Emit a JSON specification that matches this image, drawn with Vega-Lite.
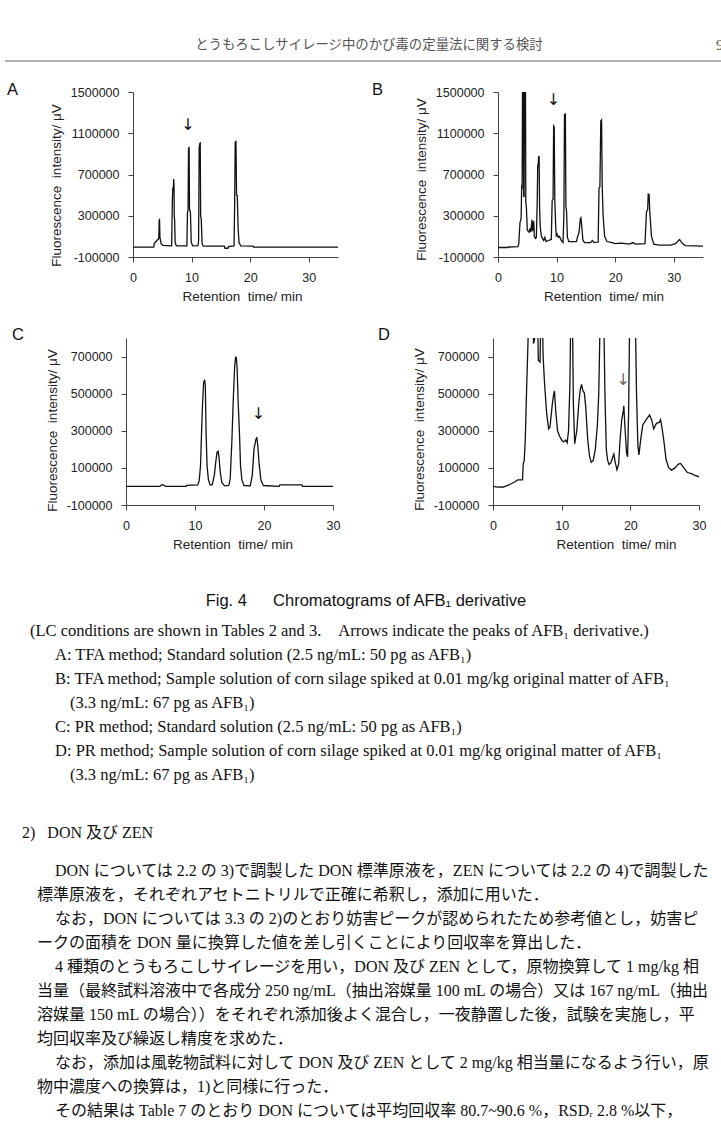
{
"$schema": "https://vega.github.io/schema/vega-lite/v6.json",
"padding": 0,
"background": "white",
"bounds": "flush",
"spacing": 0,
"config": {
  "view": {"stroke": null},
  "axis": {"grid": false, "domainColor": "#444", "tickColor": "#444", "labelColor": "#222", "titleColor": "#222", "labelFont": "Liberation Sans", "titleFont": "Liberation Sans", "labelFontSize": 12.5, "titleFontSize": 13.5, "titleFontWeight": "normal", "tickSize": 5, "labelFlush": false, "labelOverlap": false, "domainWidth": 1, "tickWidth": 1, "labelPadding": 9, "labelExpr": "replace(datum.label, '\u2212', '-')"},
  "title": {"font": "Liberation Sans", "fontSize": 16.5, "fontWeight": "normal", "anchor": "start", "color": "#111", "baseline": "alphabetic", "offset": 0, "frame": "group"}
},
"datasets": {
  "A": [{"t":0,"v":-5000},{"t":3.55,"v":-5000},{"t":3.62,"v":30000},{"t":4.0,"v":55000},{"t":4.4,"v":80000},{"t":4.47,"v":255000},{"t":4.53,"v":260000},{"t":4.6,"v":90000},{"t":4.8,"v":30000},{"t":5.1,"v":12000},{"t":6.6,"v":8000},{"t":6.72,"v":450000},{"t":6.8,"v":570000},{"t":6.9,"v":575000},{"t":6.95,"v":655000},{"t":7.0,"v":600000},{"t":7.05,"v":290000},{"t":7.1,"v":270000},{"t":7.2,"v":40000},{"t":7.4,"v":8000},{"t":9.2,"v":8000},{"t":9.3,"v":330000},{"t":9.4,"v":360000},{"t":9.48,"v":955000},{"t":9.58,"v":960000},{"t":9.65,"v":360000},{"t":9.8,"v":340000},{"t":9.95,"v":40000},{"t":10.2,"v":8000},{"t":11.1,"v":10000},{"t":11.2,"v":60000},{"t":11.3,"v":960000},{"t":11.4,"v":1000000},{"t":11.48,"v":1005000},{"t":11.55,"v":290000},{"t":11.65,"v":270000},{"t":11.8,"v":30000},{"t":12.0,"v":5000},{"t":15.6,"v":5000},{"t":15.7,"v":-15000},{"t":16.2,"v":-15000},{"t":16.3,"v":2000},{"t":17.25,"v":8000},{"t":17.35,"v":390000},{"t":17.45,"v":1015000},{"t":17.58,"v":1020000},{"t":17.68,"v":500000},{"t":17.8,"v":495000},{"t":17.95,"v":180000},{"t":18.1,"v":40000},{"t":18.4,"v":8000},{"t":20.5,"v":5000},{"t":20.6,"v":-5000},{"t":35,"v":-5000}],
  "B": [{"t":0,"v":-8000},{"t":1.7,"v":-8000},{"t":1.8,"v":-3000},{"t":3.4,"v":0},{"t":3.55,"v":30000},{"t":3.75,"v":230000},{"t":3.95,"v":280000},{"t":4.05,"v":600000},{"t":4.12,"v":560000},{"t":4.2,"v":1800000},{"t":4.3,"v":1800000},{"t":4.38,"v":500000},{"t":4.45,"v":480000},{"t":4.55,"v":1800000},{"t":4.68,"v":1800000},{"t":4.75,"v":430000},{"t":4.85,"v":380000},{"t":5.0,"v":160000},{"t":5.3,"v":140000},{"t":5.5,"v":180000},{"t":5.6,"v":140000},{"t":5.8,"v":260000},{"t":5.9,"v":150000},{"t":6.1,"v":250000},{"t":6.2,"v":100000},{"t":6.4,"v":80000},{"t":6.55,"v":90000},{"t":6.7,"v":450000},{"t":6.78,"v":790000},{"t":6.85,"v":780000},{"t":6.95,"v":880000},{"t":7.02,"v":870000},{"t":7.1,"v":380000},{"t":7.2,"v":200000},{"t":7.4,"v":100000},{"t":7.6,"v":80000},{"t":7.8,"v":60000},{"t":8.0,"v":90000},{"t":8.2,"v":50000},{"t":8.6,"v":60000},{"t":9.1,"v":70000},{"t":9.25,"v":450000},{"t":9.4,"v":460000},{"t":9.5,"v":1170000},{"t":9.6,"v":1160000},{"t":9.7,"v":450000},{"t":9.85,"v":200000},{"t":9.95,"v":100000},{"t":10.1,"v":120000},{"t":10.3,"v":90000},{"t":10.5,"v":100000},{"t":10.8,"v":60000},{"t":11.1,"v":40000},{"t":11.25,"v":300000},{"t":11.35,"v":1280000},{"t":11.5,"v":1285000},{"t":11.6,"v":380000},{"t":11.7,"v":350000},{"t":11.85,"v":90000},{"t":12.1,"v":50000},{"t":13.4,"v":50000},{"t":13.6,"v":100000},{"t":13.8,"v":130000},{"t":13.95,"v":200000},{"t":14.05,"v":270000},{"t":14.15,"v":280000},{"t":14.3,"v":200000},{"t":14.5,"v":60000},{"t":14.8,"v":40000},{"t":15.8,"v":40000},{"t":16.1,"v":60000},{"t":16.4,"v":40000},{"t":17.1,"v":45000},{"t":17.25,"v":570000},{"t":17.4,"v":580000},{"t":17.55,"v":1220000},{"t":17.68,"v":1230000},{"t":17.8,"v":560000},{"t":17.95,"v":300000},{"t":18.2,"v":100000},{"t":18.6,"v":50000},{"t":19.5,"v":40000},{"t":20,"v":30000},{"t":21,"v":35000},{"t":22.5,"v":25000},{"t":23,"v":40000},{"t":23.5,"v":25000},{"t":25.1,"v":30000},{"t":25.35,"v":340000},{"t":25.55,"v":360000},{"t":25.65,"v":510000},{"t":25.8,"v":505000},{"t":25.9,"v":350000},{"t":26.2,"v":100000},{"t":26.6,"v":25000},{"t":27.5,"v":15000},{"t":29.5,"v":15000},{"t":30.3,"v":30000},{"t":31.0,"v":70000},{"t":31.5,"v":30000},{"t":32,"v":10000},{"t":35,"v":5000}],
  "C": [{"t":0,"v":0},{"t":4.9,"v":0},{"t":5.1,"v":8000},{"t":5.3,"v":10000},{"t":5.6,"v":3000},{"t":5.8,"v":0},{"t":8.7,"v":0},{"t":8.8,"v":6000},{"t":10.4,"v":8000},{"t":10.6,"v":30000},{"t":10.8,"v":110000},{"t":10.95,"v":290000},{"t":11.1,"v":450000},{"t":11.25,"v":560000},{"t":11.4,"v":575000},{"t":11.5,"v":540000},{"t":11.6,"v":300000},{"t":11.75,"v":110000},{"t":11.95,"v":35000},{"t":12.2,"v":8000},{"t":12.5,"v":10000},{"t":12.8,"v":60000},{"t":13.0,"v":130000},{"t":13.2,"v":185000},{"t":13.35,"v":190000},{"t":13.5,"v":150000},{"t":13.65,"v":80000},{"t":13.9,"v":20000},{"t":14.3,"v":3000},{"t":14.9,"v":5000},{"t":15.1,"v":40000},{"t":15.35,"v":250000},{"t":15.55,"v":470000},{"t":15.75,"v":650000},{"t":15.9,"v":700000},{"t":16.0,"v":690000},{"t":16.1,"v":640000},{"t":16.25,"v":460000},{"t":16.45,"v":280000},{"t":16.6,"v":110000},{"t":16.8,"v":35000},{"t":17.1,"v":5000},{"t":18.0,"v":3000},{"t":18.3,"v":60000},{"t":18.55,"v":200000},{"t":18.8,"v":250000},{"t":18.95,"v":265000},{"t":19.1,"v":220000},{"t":19.3,"v":120000},{"t":19.55,"v":35000},{"t":19.9,"v":5000},{"t":22.2,"v":0},{"t":22.3,"v":8000},{"t":25.5,"v":8000},{"t":25.6,"v":0},{"t":30,"v":0}],
  "D": [{"t":0,"v":0},{"t":0.7,"v":-4000},{"t":1.5,"v":-3000},{"t":2.3,"v":8000},{"t":3.2,"v":25000},{"t":3.6,"v":35000},{"t":4.3,"v":35000},{"t":4.4,"v":120000},{"t":4.55,"v":140000},{"t":4.7,"v":250000},{"t":4.9,"v":530000},{"t":5.1,"v":780000},{"t":5.25,"v":1000000},{"t":5.8,"v":1000000},{"t":5.9,"v":770000},{"t":6.05,"v":790000},{"t":6.3,"v":1000000},{"t":6.45,"v":1000000},{"t":6.6,"v":680000},{"t":6.85,"v":670000},{"t":7.0,"v":1000000},{"t":7.15,"v":1000000},{"t":7.3,"v":700000},{"t":7.5,"v":560000},{"t":7.8,"v":400000},{"t":8.1,"v":310000},{"t":8.3,"v":320000},{"t":8.6,"v":430000},{"t":8.8,"v":490000},{"t":8.95,"v":515000},{"t":9.15,"v":400000},{"t":9.4,"v":300000},{"t":9.7,"v":270000},{"t":10.0,"v":250000},{"t":10.3,"v":240000},{"t":10.6,"v":250000},{"t":10.8,"v":235000},{"t":11.0,"v":300000},{"t":11.2,"v":550000},{"t":11.35,"v":1000000},{"t":11.55,"v":1000000},{"t":11.7,"v":450000},{"t":11.9,"v":230000},{"t":12.2,"v":300000},{"t":12.5,"v":450000},{"t":12.7,"v":520000},{"t":12.9,"v":550000},{"t":13.1,"v":515000},{"t":13.3,"v":505000},{"t":13.5,"v":430000},{"t":13.8,"v":250000},{"t":14.05,"v":165000},{"t":14.3,"v":130000},{"t":14.6,"v":140000},{"t":14.9,"v":200000},{"t":15.2,"v":330000},{"t":15.4,"v":500000},{"t":15.6,"v":900000},{"t":15.8,"v":1000000},{"t":16.1,"v":1000000},{"t":16.3,"v":500000},{"t":16.5,"v":200000},{"t":16.7,"v":140000},{"t":16.9,"v":118000},{"t":17.2,"v":130000},{"t":17.45,"v":160000},{"t":17.6,"v":175000},{"t":17.8,"v":130000},{"t":18.05,"v":90000},{"t":18.3,"v":120000},{"t":18.5,"v":250000},{"t":18.75,"v":360000},{"t":18.95,"v":400000},{"t":19.05,"v":435000},{"t":19.2,"v":330000},{"t":19.45,"v":180000},{"t":19.6,"v":160000},{"t":19.75,"v":400000},{"t":19.9,"v":900000},{"t":20.0,"v":1000000},{"t":20.7,"v":1000000},{"t":20.9,"v":500000},{"t":21.1,"v":220000},{"t":21.25,"v":170000},{"t":21.5,"v":250000},{"t":21.8,"v":330000},{"t":22.3,"v":360000},{"t":22.8,"v":385000},{"t":23.1,"v":360000},{"t":23.4,"v":310000},{"t":23.8,"v":340000},{"t":24.2,"v":345000},{"t":24.4,"v":360000},{"t":24.6,"v":320000},{"t":24.9,"v":240000},{"t":25.2,"v":145000},{"t":25.6,"v":100000},{"t":26.0,"v":88000},{"t":26.5,"v":100000},{"t":27.0,"v":120000},{"t":27.3,"v":124000},{"t":27.8,"v":100000},{"t":28.3,"v":75000},{"t":28.8,"v":70000},{"t":29.4,"v":60000},{"t":30,"v":52000}],
  "arrows": [{"panel":"A","t":9.4,"v":1183000},{"panel":"B","t":9.45,"v":1419000},{"panel":"C","t":19.2,"v":388000},{"panel":"D","t":18.95,"v":574000}],
  "caption": [
    {"line":5,"indent":0.533,"text":"(LC conditions are shown in Tables 2 and 3.\u3000Arrows indicate the peaks of AFB\u2081 derivative.)"},
    {"line":6,"indent":2.2,"text":"A: TFA method; Standard solution (2.5 ng/mL: 50 pg as AFB\u2081)"},
    {"line":7,"indent":2.2,"text":"B: TFA method; Sample solution of corn silage spiked at 0.01 mg/kg original matter of AFB\u2081"},
    {"line":8,"indent":3.2,"text":"(3.3 ng/mL: 67 pg as AFB\u2081)"},
    {"line":9,"indent":2.2,"text":"C: PR method; Standard solution (2.5 ng/mL: 50 pg as AFB\u2081)"},
    {"line":10,"indent":2.2,"text":"D: PR method; Sample solution of corn silage spiked at 0.01 mg/kg original matter of AFB\u2081"},
    {"line":11,"indent":3.2,"text":"(3.3 ng/mL: 67 pg as AFB\u2081)"}
  ],
  "body": [
    {"line":15,"indent":2.2,"text":"DON については 2.2 の 3)で調製した DON 標準原液を，ZEN については 2.2 の 4)で調製した"},
    {"line":16,"indent":1,"text":"標準原液を，それぞれアセトニトリルで正確に希釈し，添加に用いた．"},
    {"line":17,"indent":2.2,"text":"なお，DON については 3.3 の 2)のとおり妨害ピークが認められたため参考値とし，妨害ピ"},
    {"line":18,"indent":1,"text":"ークの面積を DON 量に換算した値を差し引くことにより回収率を算出した．"},
    {"line":19,"indent":2.2,"text":"4 種類のとうもろこしサイレージを用い，DON 及び ZEN として，原物換算して 1 mg/kg 相"},
    {"line":20,"indent":1,"text":"当量（最終試料溶液中で各成分 250 ng/mL（抽出溶媒量 100 mL の場合）又は 167 ng/mL（抽出"},
    {"line":21,"indent":1,"text":"溶媒量 150 mL の場合））をそれぞれ添加後よく混合し，一夜静置した後，試験を実施し，平"},
    {"line":22,"indent":1,"text":"均回収率及び繰返し精度を求めた．"},
    {"line":23,"indent":2.2,"text":"なお，添加は風乾物試料に対して DON 及び ZEN として 2 mg/kg 相当量になるよう行い，原"},
    {"line":24,"indent":1,"text":"物中濃度への換算は，1)と同様に行った．"},
    {"line":25,"indent":2.2,"text":"その結果は Table 7 のとおり DON については平均回収率 80.7~90.6 %，RSD\u1d63 2.8 %以下，"}
  ]
},
"vconcat": [
  {
    "width": 721, "height": 92,
    "encoding": {
      "x": {"field": "indent", "type": "quantitative", "scale": {"domain": [-1.4667, 46.6], "nice": false, "zero": false}, "axis": null},
      "y": {"field": "line", "type": "quantitative", "scale": {"domain": [0, 3.8333], "nice": false, "zero": false, "reverse": true}, "axis": null}
    },
    "layer": [
      {"data": {"values": [{"text": "とうもろこしサイレージ中のかび毒の定量法に関する検討", "indent": 23.13, "line": 2}]},
       "mark": {"type": "text", "font": "Noto Sans CJK JP", "fontSize": 13.4, "color": "#555", "align": "center", "baseline": "middle", "dy": -3, "clip": true},
       "encoding": {"text": {"field": "text"}}},
      {"data": {"values": [{"text": "9", "indent": 46.27, "line": 2}]},
       "mark": {"type": "text", "font": "Liberation Serif", "fontSize": 15, "color": "#555", "align": "left", "baseline": "middle", "dy": -3, "clip": true},
       "encoding": {"text": {"field": "text"}}},
      {"data": {"values": [{"line": 2.54, "indent": -1.133, "indent_end": 46.6}]},
       "mark": {"type": "rule", "color": "#999", "strokeWidth": 1.5},
       "encoding": {"x2": {"field": "indent_end"}}}
    ]
  },
  {
    "hconcat": [
      {"width": 133, "height": 165, "data": {"values": []}, "mark": "point", "encoding": {}},
      {
        "width": 205, "height": 165,
        "title": {"text": "A", "dx": -126, "dy": 16},
        "layer": [
          {"data": {"name": "A"},
           "mark": {"type": "line", "color": "#111", "strokeWidth": 1.3, "clip": true},
           "encoding": {
             "x": {"field": "t", "type": "quantitative", "scale": {"domain": [0, 35], "nice": false, "zero": false}, "axis": {"values": [0, 10, 20, 30], "title": "Retention\u00a0 time/ min", "titleX": 109, "titlePadding": 6}},
             "y": {"field": "v", "type": "quantitative", "scale": {"domain": [-100000, 1500000], "nice": false, "zero": false}, "axis": {"values": [-100000, 300000, 700000, 1100000, 1500000], "format": "d", "title": "Fluorescence\u00a0 intensity/ μV", "titleY": 93, "titlePadding": 7}}
           }},
          {"data": {"name": "arrows"}, "transform": [{"filter": "datum.panel === 'A'"}],
           "mark": {"type": "text", "text": "↓", "font": "DejaVu Sans", "fontSize": 16, "baseline": "middle", "align": "center", "color": "#111"},
           "encoding": {"x": {"field": "t", "type": "quantitative"}, "y": {"field": "v", "type": "quantitative"}}}
        ]
      },
      {"width": 160, "height": 165, "data": {"values": []}, "mark": "point", "encoding": {}},
      {
        "width": 205, "height": 165,
        "title": {"text": "B", "dx": -126, "dy": 16},
        "layer": [
          {"data": {"name": "B"},
           "mark": {"type": "line", "color": "#111", "strokeWidth": 1.3, "clip": true},
           "encoding": {
             "x": {"field": "t", "type": "quantitative", "scale": {"domain": [0, 35], "nice": false, "zero": false}, "axis": {"values": [0, 10, 20, 30], "title": "Retention\u00a0 time/ min", "titleX": 105.5, "titlePadding": 6}},
             "y": {"field": "v", "type": "quantitative", "scale": {"domain": [-100000, 1500000], "nice": false, "zero": false}, "axis": {"values": [-100000, 300000, 700000, 1100000, 1500000], "format": "d", "title": "Fluorescence\u00a0 intensity/ μV", "titleY": 87, "titlePadding": 7}}
           }},
          {"data": {"name": "arrows"}, "transform": [{"filter": "datum.panel === 'B'"}],
           "mark": {"type": "text", "text": "↓", "font": "DejaVu Sans", "fontSize": 16, "baseline": "middle", "align": "center", "color": "#111"},
           "encoding": {"x": {"field": "t", "type": "quantitative"}, "y": {"field": "v", "type": "quantitative"}}}
        ]
      }
    ],
    "spacing": 0, "bounds": "flush"
  },
  {"width": 1, "height": 246, "data": {"values": []}, "mark": "point", "encoding": {}},
  {
    "hconcat": [
      {"width": 126, "height": 167, "data": {"values": []}, "mark": "point", "encoding": {}},
      {
        "width": 207, "height": 167,
        "title": {"text": "C", "dx": -114, "dy": 9},
        "layer": [
          {"data": {"name": "C"},
           "mark": {"type": "line", "color": "#111", "strokeWidth": 1.3, "clip": true},
           "encoding": {
             "x": {"field": "t", "type": "quantitative", "scale": {"domain": [0, 30], "nice": false, "zero": false}, "axis": {"values": [0, 10, 20, 30], "title": "Retention\u00a0 time/ min", "titleX": 106.5, "titlePadding": 6}},
             "y": {"field": "v", "type": "quantitative", "scale": {"domain": [-100000, 800000], "nice": false, "zero": false}, "axis": {"values": [-100000, 100000, 300000, 500000, 700000], "format": "d", "title": "Fluorescence\u00a0 intensity/ μV", "titleY": 92, "titlePadding": 7}}
           }},
          {"data": {"name": "arrows"}, "transform": [{"filter": "datum.panel === 'C'"}],
           "mark": {"type": "text", "text": "↓", "font": "DejaVu Sans", "fontSize": 16, "baseline": "middle", "align": "center", "color": "#111"},
           "encoding": {"x": {"field": "t", "type": "quantitative"}, "y": {"field": "v", "type": "quantitative"}}}
        ]
      },
      {"width": 160, "height": 167, "data": {"values": []}, "mark": "point", "encoding": {}},
      {
        "width": 206, "height": 167,
        "title": {"text": "D", "dx": -115, "dy": 9},
        "layer": [
          {"data": {"name": "D"},
           "mark": {"type": "line", "color": "#111", "strokeWidth": 1.3, "clip": true},
           "encoding": {
             "x": {"field": "t", "type": "quantitative", "scale": {"domain": [0, 30], "nice": false, "zero": false}, "axis": {"values": [0, 10, 20, 30], "title": "Retention\u00a0 time/ min", "titleX": 123, "titlePadding": 6}},
             "y": {"field": "v", "type": "quantitative", "scale": {"domain": [-100000, 800000], "nice": false, "zero": false}, "axis": {"values": [-100000, 100000, 300000, 500000, 700000], "format": "d", "title": "Fluorescence\u00a0 intensity/ μV", "titleY": 91, "titlePadding": 7}}
           }},
          {"data": {"name": "arrows"}, "transform": [{"filter": "datum.panel === 'D'"}],
           "mark": {"type": "text", "text": "↓", "font": "DejaVu Sans", "fontSize": 16, "baseline": "middle", "align": "center", "color": "#666"},
           "encoding": {"x": {"field": "t", "type": "quantitative"}, "y": {"field": "v", "type": "quantitative"}}}
        ]
      }
    ],
    "spacing": 0, "bounds": "flush"
  },
  {"width": 1, "height": 167, "data": {"values": []}, "mark": "point", "encoding": {}},
  {
    "width": 721, "height": 634,
    "encoding": {
      "x": {"field": "indent", "type": "quantitative", "scale": {"domain": [-1.4667, 46.6], "nice": false, "zero": false}, "axis": null},
      "y": {"field": "line", "type": "quantitative", "scale": {"domain": [-0.25, 26.1667], "nice": false, "zero": false, "reverse": true}, "axis": null},
      "text": {"field": "text"}
    },
    "layer": [
      {"data": {"values": [{"line": 4, "indent": 22.93, "text": "Fig. 4\u3000\u00a0 Chromatograms of AFB\u2081 derivative"}]},
       "mark": {"type": "text", "font": "Liberation Sans", "fontSize": 16.5, "color": "#111", "align": "center", "baseline": "middle", "dy": -6, "clip": true}},
      {"data": {"name": "caption"},
       "mark": {"type": "text", "font": "Liberation Serif", "fontSize": 16.5, "color": "#111", "align": "left", "baseline": "middle", "clip": true}},
      {"data": {"values": [{"line": 13, "indent": 0, "text": "2)\u00a0\u00a0\u00a0DON 及び ZEN"}]},
       "mark": {"type": "text", "font": "Liberation Serif, Noto Sans CJK JP", "fontSize": 16, "color": "#111", "align": "left", "baseline": "middle", "dy": 10, "clip": true}},
      {"data": {"name": "body"},
       "mark": {"type": "text", "font": "Liberation Serif, Noto Sans CJK JP", "fontSize": 16, "color": "#111", "align": "left", "baseline": "middle", "clip": true}}
    ]
  }
]
}
